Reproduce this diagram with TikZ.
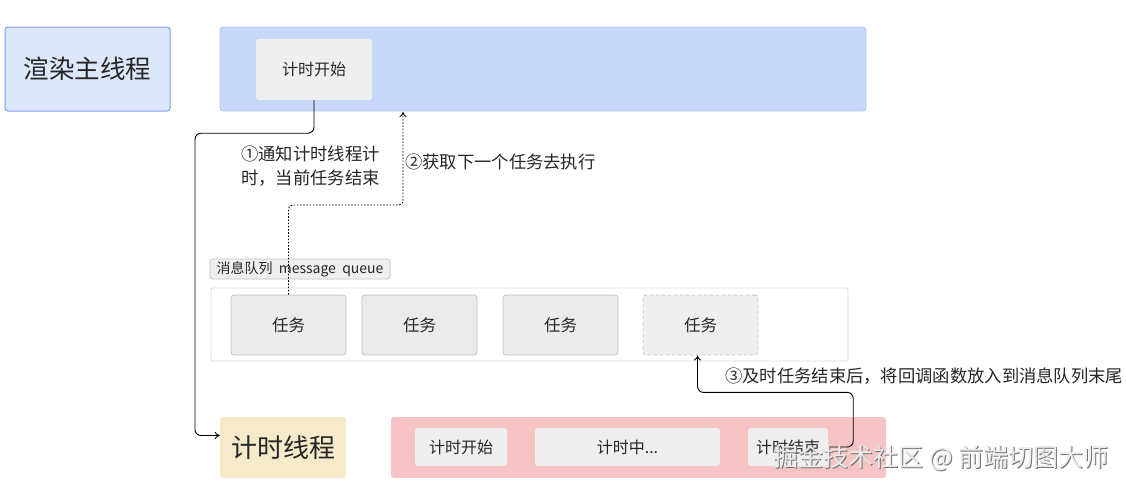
\documentclass[tikz,border=0pt]{standalone}
\usepackage{fontspec}
\setmainfont{Noto Sans CJK SC}
\usetikzlibrary{arrows.meta,calc}
\definecolor{txt}{HTML}{262626}
\definecolor{rfill}{HTML}{DDE7FB}
\definecolor{rdraw}{HTML}{7AA0E8}
\definecolor{pfill}{HTML}{C8D8FA}
\definecolor{pdraw}{HTML}{B5C7F0}
\definecolor{ibox}{HTML}{EFEFEF}
\definecolor{tfill}{HTML}{EBEBEB}
\definecolor{tdraw}{HTML}{C2C2C2}
\definecolor{qdraw}{HTML}{DCDCDC}
\definecolor{yfill}{HTML}{F6EACB}
\definecolor{redfill}{HTML}{F6C4C4}
\tikzset{
  fs/.style={font=\fontsize{#1}{#1}\selectfont},
  bigbox/.style={rounded corners=3pt, text=txt, inner sep=0pt},
  innerbox/.style={fill=ibox, rounded corners=3pt, text=txt, inner sep=0pt, fs=16},
  taskbox/.style={fill=tfill, draw=tdraw, line width=0.8pt, rounded corners=3pt, text=txt, inner sep=0pt, minimum width=115, minimum height=60, fs=16.5},
  conn/.style={draw=black, line width=0.9pt, rounded corners=6pt, -{To[length=5pt,width=7pt]}},
  dconn/.style={draw=black, line width=0.9pt, dash pattern=on 1.6pt off 1.6pt, rounded corners=4pt, -{To[length=5pt,width=7pt]}},
  lbl/.style={text=txt, inner sep=0pt, fs=17.3},
}
\begin{document}
\begin{tikzpicture}[x=1pt,y=-1pt]
\useasboundingbox[fill=white] (0,0) rectangle (1126,488);

% main thread
\node[bigbox, fill=rfill, draw=rdraw, line width=1pt, minimum width=165, minimum height=84, fs=25.5] (rt) at (87.5,69) {渲染主线程};
\node[bigbox, fill=pfill, draw=pdraw, line width=0.8pt, minimum width=646, minimum height=84] (mp) at (543,69) {};
\node[innerbox, minimum width=116, minimum height=61] (ts) at (314,69.5) {计时开始};

% message queue
\node[fill=ibox, draw=tdraw, line width=0.7pt, rounded corners=3pt, inner sep=0pt, minimum width=180, minimum height=20, text=txt, fs=14] (tag) at (300,269) {消息队列\ \ message\ \ queue};
\node[fill=white, draw=qdraw, line width=0.8pt, rounded corners=2pt, inner sep=0pt, minimum width=637, minimum height=73] (q) at (529.5,324.5) {};
\node[taskbox] (t1) at (288.5,325) {任务};
\node[taskbox] (t2) at (419.5,325) {任务};
\node[taskbox] (t3) at (560.5,325) {任务};
\node[taskbox, dashed, fill=ibox] (t4) at (700.5,325) {任务};

% timer thread
\node[bigbox, fill=yfill, minimum width=126, minimum height=61, fs=26] (tt) at (283,447.5) {计时线程};
\node[bigbox, fill=redfill, minimum width=495, minimum height=61] (rp) at (638.5,447.5) {};
\node[innerbox, minimum width=92, minimum height=38] (tb) at (461,447) {计时开始};
\node[innerbox, minimum width=185, minimum height=38] (tm) at (627.5,447) {计时中...};
\node[innerbox, minimum width=80, minimum height=38] (te) at (788,447) {计时结束};

% labels
\node[lbl, anchor=north west, align=left, font=\fontsize{17.3}{24}\selectfont] (l1) at (241,146) {①通知计时线程计\\时，当前任务结束};
\node[lbl, anchor=west] (l2) at (405,162) {②获取下一个任务去执行};
\node[lbl, anchor=west] (l3) at (725,376) {③及时任务结束后，将回调函数放入到消息队列末尾};

% connectors
\draw[conn] (ts.south) -- ++(0,33) -- ++(-119,0) |- ($(tt.west)+(0,-12)$);
\coordinate (a2) at (403,112);
\draw[dconn] (t1.north) |- ($(a2)+(0,93)$) -- (a2);
\draw[conn] (te.east) -- ++(25,0) |- ($(t4.south)+(-3,37)$) -- ($(t4.south)+(-3,0)$);

% watermark
\node[text=black!55, inner sep=0pt, fs=25] (wm0) at (942,459) {掘金技术社区 @ 前端切图大师};
\node[text=white!92!black, inner sep=0pt, fs=25] (wm) at (941,458) {掘金技术社区 @ 前端切图大师};
\end{tikzpicture}
\end{document}
